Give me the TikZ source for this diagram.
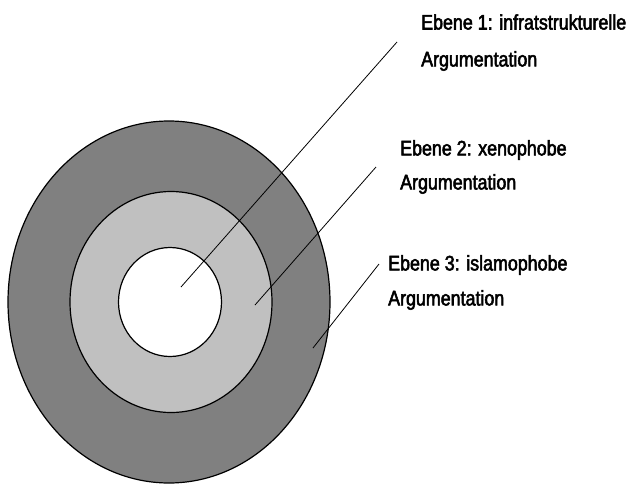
\documentclass[tikz,border=0pt]{standalone}
\usepackage{fontspec}
\usetikzlibrary{shapes.geometric}
\setmainfont{Liberation Sans}[FakeStretch=0.85,FakeBold=2.5]
\definecolor{darkring}{RGB}{128,128,128}
\definecolor{lightring}{RGB}{192,192,192}
\begin{document}
\begin{tikzpicture}[x=1pt,y=-1pt,
  ring/.style={draw=black,line width=1.2pt,ellipse,inner sep=0pt},
  lead/.style={draw=black,line width=0.8pt},
  lbl/.style={anchor=west,inner sep=0pt,font=\fontsize{21}{24}\selectfont}]
\useasboundingbox (0,0) rectangle (630,485);
\node[ring,fill=darkring,minimum width=322,minimum height=362] (outer) at (169,302) {};
\node[ring,fill=lightring,minimum width=202,minimum height=221] (mid) at (171,302) {};
\node[ring,fill=white,minimum width=103,minimum height=109] (inner) at (170,302) {};
\coordinate (p1) at (181,287);
\coordinate (q1) at (397,42);
\coordinate (p2) at (255,305);
\coordinate (q2) at (376,167);
\coordinate (p3) at (313,348);
\coordinate (q3) at (379,264);
\draw[lead] (p1) -- (q1);
\draw[lead] (p2) -- (q2);
\draw[lead] (p3) -- (q3);
\node[lbl] (t1a) at (421,22) {Ebene 1: infratstrukturelle};
\node[lbl] (t1b) at (421,61) {Argumentation};
\node[lbl] (t2a) at (400,150) {Ebene 2: xenophobe};
\node[lbl] (t2b) at (400,184) {Argumentation};
\node[lbl] (t3a) at (388,265) {Ebene 3: islamophobe};
\node[lbl] (t3b) at (388,300) {Argumentation};
\end{tikzpicture}
\end{document}
